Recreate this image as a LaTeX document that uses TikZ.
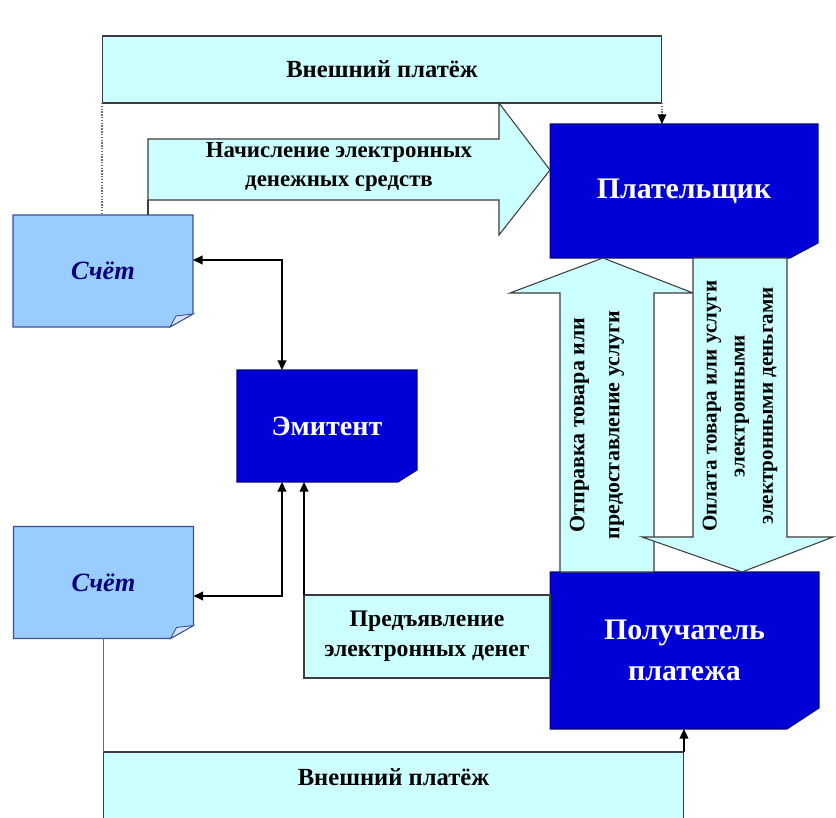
\documentclass[tikz,border=0pt]{standalone}
\usepackage{fontspec}
\setmainfont{Liberation Serif}
\usetikzlibrary{arrows.meta,positioning,backgrounds}
\definecolor{pcyan}{RGB}{204,255,255}
\definecolor{pblue}{RGB}{0,0,215}
\definecolor{pnavy}{RGB}{0,0,120}
\definecolor{pacct}{RGB}{153,204,255}
\definecolor{pacctline}{RGB}{60,80,150}
\definecolor{pfold}{RGB}{215,228,255}
\definecolor{pline}{RGB}{60,60,60}
\definecolor{pgray}{RGB}{110,110,110}

% box with cut bottom-right corner: node, dx, dy, style
\newcommand{\cutbox}[4]{%
  \path[#4] (#1.north west) -- (#1.north east) -- ([shift={(0,-#3)}]#1.south east)
    -- ([shift={(-#2,0)}]#1.south east) -- (#1.south west) -- cycle;}
% folded corner of an account sheet
\newcommand{\dogear}[1]{%
  \path[fill=pfold,draw=pacctline,line width=0.5pt] ([shift={(-23,0)}]#1.south east)
    -- ([shift={(0,-13)}]#1.south east) -- ([shift={(-17,-11)}]#1.south east) -- cycle;}

\begin{document}
\begin{tikzpicture}[x=0.02cm,y=-0.02cm,
  band/.style={draw=pline,fill=pcyan,line width=0.6pt,inner sep=0pt,outer sep=0pt,
               align=center,font=\fontsize{14}{17}\selectfont\bfseries},
  bluebox/.style={inner sep=0pt,outer sep=0pt,text=white,align=center,
               font=\fontsize{17}{23}\selectfont\bfseries},
  acctbox/.style={inner sep=0pt,outer sep=0pt,minimum width=3.6cm,minimum height=2.24cm,
               text=pnavy,font=\fontsize{15}{18}\selectfont\bfseries\itshape},
  blockarrow/.style={draw=pline,fill=pcyan,line width=0.6pt},
  arrowtext/.style={inner sep=0pt,align=center},
  tip/.style={-{Triangle[length=5.5pt,width=5pt]}},
  link/.style={draw=black,line width=0.8pt,tip},
  twolink/.style={draw=black,line width=0.8pt,{Triangle[length=5.5pt,width=5pt]}-{Triangle[length=5.5pt,width=5pt]}},
  dotlink/.style={draw=pgray,line width=1.3pt,dash pattern=on 0.8pt off 0.8pt},
  plainline/.style={draw=pgray,line width=1pt}]
  \useasboundingbox (0,0) rectangle (836,818);
  \clip (0,0) rectangle (836,818);

  % external payments
  \node[band,minimum width=11.2cm,minimum height=1.34cm] (paytop) at (382,69.5) {Внешний платёж};
  \node[band,anchor=north,minimum width=11.62cm,text height=19pt,text depth=24pt] (paybot) at (393.5,752) {Внешний платёж};

  % participants
  \node[bluebox,minimum width=5.36cm,minimum height=2.68cm] (payer) at (684,191) {Плательщик};
  \node[bluebox,minimum width=5.38cm,minimum height=3.14cm] (recv) at (684.5,650.5) {Получатель\\платежа};
  \node[bluebox,font=\fontsize{16}{20}\selectfont\bfseries,minimum width=3.6cm,minimum height=2.24cm] (issuer) at (327,426) {Эмитент};
  \node[acctbox] (acct1) at (103,271) {Счёт};
  \node[acctbox] (acct2) at (103.5,582.5) {Счёт};
  \node[band,font=\fontsize{13.5}{17}\selectfont\bfseries,minimum width=4.92cm,minimum height=1.66cm] (claim) at (427,636.5) {Предъявление\\электронных денег};

  \begin{scope}[on background layer]
    \cutbox{payer}{28}{15}{fill=pblue,draw=pnavy,line width=0.6pt}
    \cutbox{recv}{32}{21}{fill=pblue,draw=pnavy,line width=0.6pt}
    \cutbox{issuer}{19}{12}{fill=pblue,draw=pnavy,line width=0.6pt}
    \cutbox{acct1}{23}{13}{fill=pacct,draw=pacctline,line width=0.6pt}
    \cutbox{acct2}{23}{13}{fill=pacct,draw=pacctline,line width=0.6pt}
    \dogear{acct1}
    \dogear{acct2}
  \end{scope}

  % block arrows
  \draw[blockarrow] (148,139) -- (499,139) -- (499,103) -- (550,170) -- (499,235) -- (499,200) -- (148,200) -- cycle;
  \draw[blockarrow] (560,572) -- (560,293) -- (510,293) -- (603,258) -- (693,293) -- (654,293) -- (654,572) -- cycle;
  \draw[blockarrow] (693,258) -- (787,258) -- (787,537) -- (833,537) -- (742,572) -- (642,537) -- (693,537) -- cycle;
  \coordinate (accrfoot) at (148,200);

  \node[arrowtext,font=\fontsize{13}{16.5}\selectfont\bfseries] (accrual) at (339,167) {Начисление электронных\\денежных средств};
  \node[arrowtext,rotate=90,font=\fontsize{12.5}{20}\selectfont\bfseries] (ship) at (597,425) {Отправка товара или\\предоставление услуги};
  \node[arrowtext,rotate=90,font=\fontsize{12}{16}\selectfont\bfseries] (paying) at (740,406) {Оплата товара или услуги\\электронными\\электронными деньгами};

  % connectors
  \draw[dotlink] (paytop.south west) -- (paytop.south west |- acct1.north);
  \draw[dotlink] (paytop.south east) -- ([shift={(0,-10)}]paytop.south east |- payer.north);
  \draw[link] ([shift={(0,-10)}]paytop.south east |- payer.north) -- (paytop.south east |- payer.north);
  \draw[draw=pline,line width=0.8pt] (accrfoot) -- (accrfoot |- acct1.north);
  \draw[twolink] ([shift={(0,-11)}]acct1.east) -| ([shift={(-45,0)}]issuer.north);
  \draw[twolink] ([shift={(0,13.5)}]acct2.east) -| ([shift={(-45,0)}]issuer.south);
  \draw[link] (claim.north west) -- (claim.north west |- issuer.south);
  \draw[plainline] (acct2.south) -- (acct2.south |- paybot.north);
  \draw[link] (paybot.north east) -- (paybot.north east |- recv.south);
\end{tikzpicture}
\end{document}
